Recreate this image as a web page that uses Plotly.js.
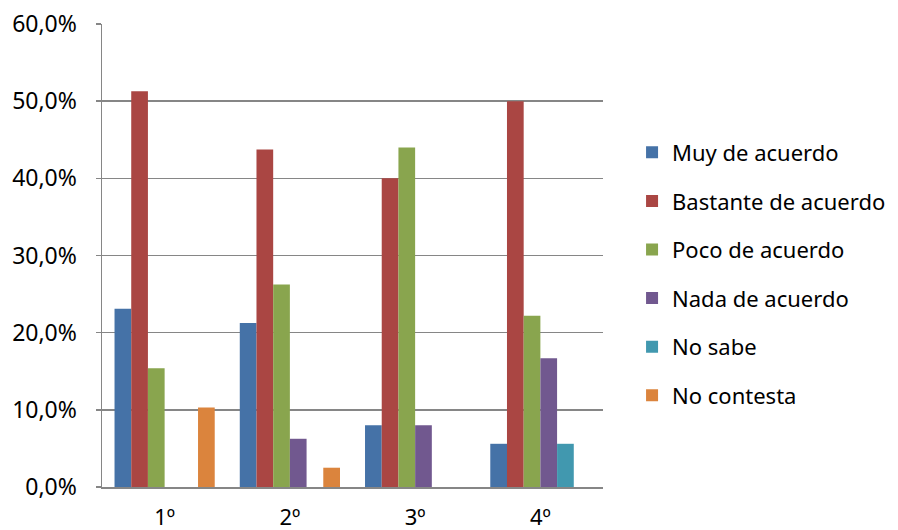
<!DOCTYPE html>
<html>
<head>
<meta charset="utf-8">
<script src="https://cdn.plot.ly/plotly-3.0.1.min.js"></script>
<style>html,body{margin:0;padding:0;background:#fff;}#chart{width:898px;height:530px;}</style>
</head>
<body>
<div id="chart"></div>
<script>
const categories = ["1º", "2º", "3º", "4º"];
const seriesNames = ["Muy de acuerdo", "Bastante de acuerdo", "Poco de acuerdo", "Nada de acuerdo", "No sabe", "No contesta"];
const muyDeAcuerdo = [0.231, 0.2125, 0.08, 0.056];
const bastanteDeAcuerdo = [0.513, 0.4375, 0.40, 0.50];
const pocoDeAcuerdo = [0.154, 0.2625, 0.44, 0.222];
const nadaDeAcuerdo = [0, 0.0625, 0.08, 0.167];
const noSabe = [0, 0, 0, 0.056];
const noContesta = [0.103, 0.025, 0, 0];
const colors = ["#4572A7", "#AA4643", "#89A54E", "#71588F", "#4198AF", "#DB843D"];

const allValues = [muyDeAcuerdo, bastanteDeAcuerdo, pocoDeAcuerdo, nadaDeAcuerdo, noSabe, noContesta];
const font = "Noto Sans, Open Sans, sans-serif";

const traces = allValues.map((vals, i) => ({
  type: "bar",
  name: seriesNames[i],
  x: categories,
  y: vals,
  legendgroup: "g" + i,
  marker: { color: colors[i], line: { width: 0 } },
  hoverinfo: "skip"
}));

const layout = {
  width: 898,
  height: 530,
  margin: { l: 102, r: 295, t: 24, b: 43, autoexpand: false },
  paper_bgcolor: "#ffffff",
  plot_bgcolor: "#ffffff",
  separators: ",.",
  barmode: "group",
  bargap: 0.2,
  bargroupgap: 0,
  font: { family: font, size: 22, color: "#000000" },
  xaxis: {
    type: "category",
    showgrid: false,
    showline: true,
    linecolor: "#868686",
    linewidth: 1.5,
    ticks: "",
    tickfont: { family: font, size: 22, color: "#000" },
    ticklabelstandoff: 10
  },
  yaxis: {
    range: [0, 0.6],
    dtick: 0.1,
    tickformat: ".1%",
    showgrid: true,
    gridcolor: "#868686",
    gridwidth: 1.5,
    showline: true,
    linecolor: "#868686",
    linewidth: 1.5,
    ticks: "outside",
    ticklen: 5,
    tickcolor: "#868686",
    tickwidth: 1.5,
    zeroline: false,
    ticklabelstandoff: 14,
    tickfont: { family: font, size: 23, color: "#000" }
  },
  showlegend: true,
  legend: {
    x: 1.058,
    xanchor: "left",
    y: 0.46,
    yanchor: "middle",
    traceorder: "grouped",
    tracegroupgap: 17,
    font: { family: font, size: 22, color: "#000" },
    bgcolor: "rgba(0,0,0,0)",
    itemwidth: 30
  }
};

Plotly.newPlot("chart", traces, layout, { staticPlot: true, displayModeBar: false });
</script>
</body>
</html>
